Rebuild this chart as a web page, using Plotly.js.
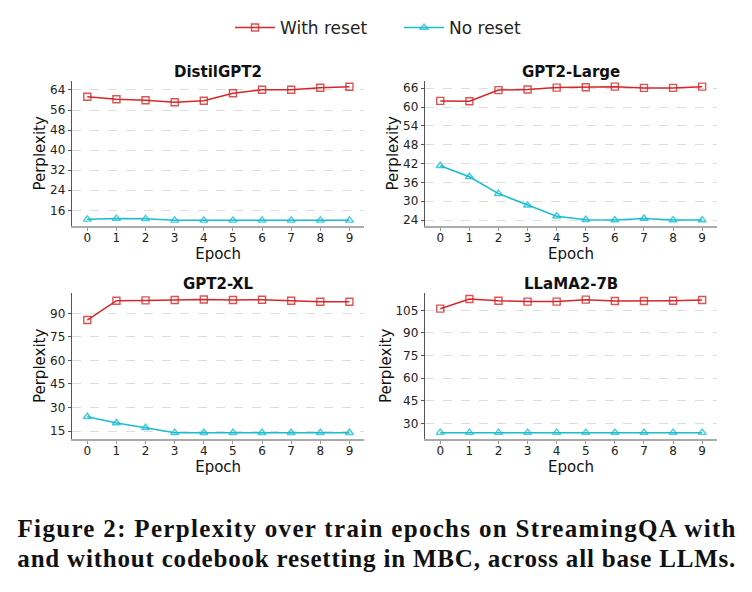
<!DOCTYPE html>
<html>
<head>
<meta charset="utf-8">
<script src="https://cdn.plot.ly/plotly-3.0.1.min.js"></script>
<style>html,body{margin:0;padding:0;background:#fff;}#chart{width:752px;height:592px;}</style>
</head>
<body>
<div id="chart"></div>
<script>
// ---- data ----
const epochs = [0, 1, 2, 3, 4, 5, 6, 7, 8, 9];
const panelTitles = ["DistilGPT2", "GPT2-Large", "GPT2-XL", "LLaMA2-7B"];
const seriesNames = ["With reset", "No reset"];

const distilWithReset = [61.3, 60.3, 59.9, 59.1, 59.7, 62.7, 64.1, 64.1, 64.9, 65.3];
const distilNoReset   = [12.4, 12.7, 12.6, 12.0, 12.0, 12.0, 12.0, 12.0, 12.0, 12.0];

const largeWithReset  = [61.96, 61.85, 65.4, 65.6, 66.2, 66.3, 66.5, 66.1, 66.1, 66.5];
const largeNoReset    = [41.3, 37.8, 32.4, 28.7, 25.2, 24.1, 24.0, 24.5, 24.0, 24.0];

const xlWithReset     = [85.75, 98.1, 98.3, 98.5, 98.9, 98.5, 98.7, 98.1, 97.4, 97.4];
const xlNoReset       = [24.1, 20.1, 17.1, 13.9, 13.9, 13.9, 13.9, 13.9, 13.9, 13.9];

const llamaWithReset  = [106.1, 112.5, 111.4, 110.8, 110.8, 112.1, 111.2, 111.2, 111.4, 111.9];
const llamaNoReset    = [23.8, 23.8, 23.8, 23.8, 23.8, 23.8, 23.8, 23.8, 23.8, 23.8];

const yTickVals = [
  [16, 24, 32, 40, 48, 56, 64],
  [24, 30, 36, 42, 48, 54, 60, 66],
  [15, 30, 45, 60, 75, 90],
  [30, 45, 60, 75, 90, 105]
];
const yRanges = [[9.74, 67.7], [22.1, 68.4], [9.9, 103.2], [19.6, 116.7]];
const captionLines = [
  "Figure 2: Perplexity over train epochs on StreamingQA with",
  "and without codebook resetting in MBC, across all base LLMs."
];

// ---- build ----
const RED = "#d62728", CYAN = "#17becf";
const W = 752, H = 592;
const withData = [distilWithReset, largeWithReset, xlWithReset, llamaWithReset];
const noData = [distilNoReset, largeNoReset, xlNoReset, llamaNoReset];

// pixel boxes for each panel [x0, x1, yTop, yBottom]
const boxes = [
  [72.3, 364, 80.7, 226],
  [425.3, 716.7, 80.7, 226],
  [72.3, 364, 292.7, 439],
  [425.3, 716.7, 292.7, 439]
];

const traces = [];
const layout = {
  width: W, height: H,
  margin: {l: 0, r: 0, t: 0, b: 0},
  paper_bgcolor: "#fff", plot_bgcolor: "#fff",
  font: {family: "DejaVu Sans", color: "#222", size: 12},
  showlegend: true,
  legend: {
    orientation: "h", x: 230 / W, xanchor: "left", y: 1 - 28 / H, yanchor: "middle",
    font: {size: 17, family: "DejaVu Sans", color: "#222"},
    itemwidth: 40, tracegroupgap: 0, entrywidth: 114
  },
  annotations: []
};

for (let i = 0; i < 4; i++) {
  const n = i + 1;
  const xa = n === 1 ? "x" : "x" + n;
  const ya = n === 1 ? "y" : "y" + n;
  traces.push({
    x: epochs, y: withData[i], xaxis: xa, yaxis: ya, type: "scatter", mode: "lines+markers",
    name: seriesNames[0], legendgroup: "w", showlegend: i === 0,
    line: {color: RED, width: 1.5},
    marker: {symbol: "square-open", size: 7, color: RED, line: {width: 1.4}, opacity: 0.8}
  });
  traces.push({
    x: epochs, y: noData[i], xaxis: xa, yaxis: ya, type: "scatter", mode: "lines+markers",
    name: seriesNames[1], legendgroup: "n", showlegend: i === 0,
    line: {color: CYAN, width: 1.5},
    marker: {symbol: "triangle-up-open", size: 7, color: CYAN, line: {width: 1.4}, opacity: 0.8}
  });
  const b = boxes[i];
  const xKey = n === 1 ? "xaxis" : "xaxis" + n;
  const yKey = n === 1 ? "yaxis" : "yaxis" + n;
  layout[xKey] = {
    domain: [b[0] / W, b[1] / W], anchor: ya,
    range: [-0.515, 9.5], tickmode: "array", tickvals: epochs,
    showgrid: false, zeroline: false,
    showline: true, linecolor: "#aaaaaa", linewidth: 2,
    ticks: "outside", ticklen: 3, tickcolor: "#999", tickwidth: 1,
    ticklabelstandoff: -3,
    tickfont: {size: 12, color: "#222"},
    title: {text: "Epoch", font: {size: 15, color: "#111"}, standoff: 1}
  };
  layout[yKey] = {
    domain: [1 - b[3] / H, 1 - b[2] / H], anchor: xa,
    range: yRanges[i], tickmode: "array", tickvals: yTickVals[i],
    showgrid: true, gridcolor: "#dddddd", griddash: "dash", gridwidth: 1,
    zeroline: false,
    showline: true, linecolor: "#555", linewidth: 1,
    ticks: "outside", ticklen: 3.5, tickcolor: "#555", tickwidth: 1,
    tickfont: {size: 12, color: "#222"},
    title: {text: "Perplexity", font: {size: 15, color: "#111"}, standoff: 0}
  };
  layout.annotations.push({
    text: "<b>" + panelTitles[i] + "</b>", xref: "paper", yref: "paper",
    x: (b[0] + b[1]) / 2 / W, y: 1 - (b[2] - 9) / H, xanchor: "center", yanchor: "middle",
    showarrow: false, font: {size: 15, family: "DejaVu Sans", color: "#111"}
  });
}

const captionY = [528.5, 558.5];
captionLines.forEach((line, k) => {
  layout.annotations.push({
    text: "<b>" + line + "</b>", xref: "paper", yref: "paper",
    x: 376 / W, y: 1 - captionY[k] / H, xanchor: "center", yanchor: "middle",
    showarrow: false, font: {size: 25, family: "Liberation Serif", color: "#111"}
  });
});

Plotly.newPlot("chart", traces, layout, {displayModeBar: false, staticPlot: true}).then(() => {
  // justify caption lines to the full text width, as in the source figure
  const texts = document.querySelectorAll(".annotation-text");
  captionLines.forEach((line, k) => {
    const t = texts[texts.length - captionLines.length + k];
    if (t) {
      t.setAttribute("textLength", "718");
      t.setAttribute("lengthAdjust", "spacing");
    }
  });
});
</script>
</body>
</html>
